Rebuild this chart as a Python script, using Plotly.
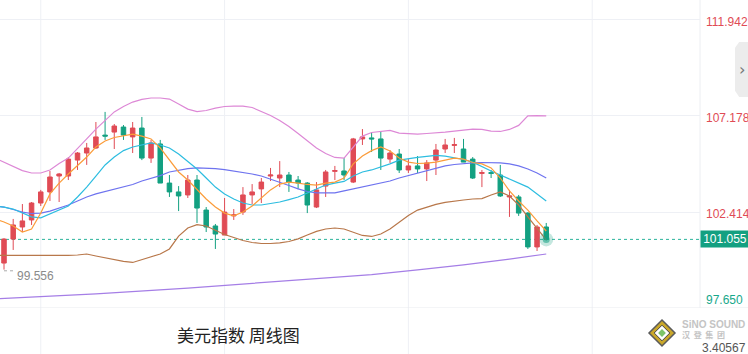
import plotly.graph_objects as go

# ---------------- data ----------------
idx = list(range(60))
opens = [99.88, 101.07, 101.67, 102.02, 102.86, 103.41, 104.20, 104.20, 104.99, 105.34,
         105.59, 106.23, 106.38, 106.63, 106.14, 106.58, 105.09, 105.79, 103.85, 103.41,
         103.26, 104.00, 102.51, 101.72, 101.27, 102.22, 102.41, 103.26, 103.56, 104.20,
         104.10, 104.25, 104.00, 103.85, 102.66, 103.70, 104.43, 104.45, 103.90, 106.04,
         106.09, 106.04, 105.04, 105.29, 104.50, 104.70, 104.55, 104.99, 105.54, 105.72,
         105.54, 105.04, 104.33, 104.37, 104.25, 103.16, 103.16, 102.36, 100.68, 101.67]
highs = [101.12, 102.07, 102.81, 102.91, 103.51, 104.45, 104.35, 105.14, 105.39, 105.84,
         106.88, 107.38, 106.78, 106.73, 106.88, 107.13, 105.99, 105.99, 104.25, 103.70,
         104.25, 104.25, 102.66, 101.82, 103.11, 102.56, 103.65, 103.80, 104.10, 104.60,
         104.94, 104.40, 104.20, 103.90, 103.90, 104.50, 104.70, 105.09, 106.09, 106.53,
         106.38, 106.43, 105.49, 105.54, 105.04, 105.19, 104.99, 105.79, 106.04, 106.09,
         106.04, 105.14, 104.50, 104.50, 104.75, 103.51, 103.26, 102.41, 101.77, 101.87]
lows = [99.556, 100.53, 101.42, 101.77, 102.71, 102.96, 102.91, 104.00, 104.50, 104.75,
        105.54, 105.99, 105.54, 105.99, 105.34, 104.99, 104.85, 103.85, 103.16, 102.46,
        103.11, 101.87, 101.42, 100.58, 101.27, 102.02, 102.27, 102.81, 102.86, 103.95,
        103.65, 103.41, 103.56, 102.36, 102.61, 103.16, 104.00, 104.00, 103.85, 105.74,
        105.39, 104.50, 104.85, 104.35, 104.35, 104.35, 103.95, 104.25, 105.34, 105.34,
        104.89, 104.05, 103.65, 104.10, 103.16, 102.17, 102.22, 100.58, 100.48, 101.00]
closes = [101.07, 101.77, 101.97, 102.86, 103.41, 104.15, 104.30, 105.04, 105.34, 105.59,
          106.14, 106.18, 106.68, 106.23, 106.58, 105.09, 105.84, 103.85, 103.41, 103.21,
          104.00, 102.61, 101.67, 101.32, 102.41, 102.27, 103.26, 103.41, 103.90, 104.25,
          104.25, 103.90, 103.85, 102.76, 103.51, 104.40, 104.47, 104.25, 106.04, 106.14,
          106.04, 105.09, 105.34, 104.50, 104.70, 104.55, 104.85, 105.49, 105.74, 105.76,
          104.89, 104.10, 104.37, 104.33, 103.21, 103.21, 102.36, 100.68, 101.67, 101.055]

line_idx = list(range(-1, 60))
boll_upper = [105.09, 104.89, 104.69, 104.47, 104.35, 104.35, 104.50, 104.82, 105.09, 105.54,
              106.04, 106.53, 106.98, 107.38, 107.65, 107.87, 108.00, 108.07, 108.07, 108.02,
              107.77, 107.52, 107.40, 107.45, 107.57, 107.65, 107.67, 107.67, 107.60, 107.42,
              107.20, 106.95, 106.66, 106.31, 105.94, 105.59, 105.32, 105.12, 105.09, 105.64,
              106.18, 106.36, 106.41, 106.46, 106.33, 106.31, 106.28, 106.31, 106.33, 106.38,
              106.43, 106.48, 106.53, 106.51, 106.43, 106.41, 106.51, 106.71, 107.18, 107.20,
              107.18]
boll_lower = [100.26, 100.26, 100.26, 100.26, 100.26, 100.23, 100.23, 100.26, 100.26, 100.28,
              100.33, 100.23, 100.13, 100.06, 99.96, 99.91, 100.06, 100.21, 100.33, 100.58,
              101.22, 101.62, 101.79, 101.72, 101.52, 101.30, 101.15, 101.00, 100.90, 100.85,
              100.85, 100.88, 100.95, 101.08, 101.27, 101.45, 101.57, 101.62, 101.57, 101.42,
              101.25, 101.20, 101.32, 101.57, 101.89, 102.24, 102.51, 102.66, 102.79, 102.89,
              102.96, 103.01, 103.06, 103.08, 103.26, 103.41, 103.21, 102.76, 102.17, 101.62,
              101.03]
ma5 = [102.07, 101.92, 101.72, 101.42, 101.57, 102.36, 103.31, 103.85, 104.30, 104.70,
       105.14, 105.64, 105.94, 106.11, 106.21, 106.28, 106.18, 106.04, 105.59, 104.99,
       104.40, 104.00, 103.51, 103.06, 102.66, 102.36, 102.22, 102.41, 102.71, 103.11,
       103.51, 103.80, 103.90, 103.85, 103.78, 103.75, 103.85, 103.90, 104.10, 104.80,
       105.19, 105.46, 105.64, 105.44, 105.09, 104.89, 104.82, 104.84, 104.89, 104.99,
       105.09, 105.04, 104.87, 104.80, 104.60, 104.10, 103.46, 102.96, 102.51, 101.97,
       101.47]
ma10 = [102.71, 102.66, 102.56, 102.36, 102.17, 102.12, 102.31, 102.51, 102.71, 103.16,
        103.65, 104.20, 104.75, 105.14, 105.46, 105.64, 105.74, 105.84, 105.74, 105.59,
        105.29, 104.94, 104.55, 104.10, 103.65, 103.31, 103.06, 102.86, 102.76, 102.76,
        102.84, 102.91, 103.03, 103.16, 103.36, 103.56, 103.75, 103.85, 103.93, 104.20,
        104.40, 104.50, 104.65, 104.80, 104.99, 105.07, 105.12, 105.17, 105.22, 105.19,
        105.12, 105.02, 104.89, 104.65, 104.45, 104.25, 104.05, 103.85, 103.65, 103.31,
        102.96]
ma20 = [102.71, 102.66, 102.54, 102.41, 102.34, 102.36, 102.46, 102.61, 102.76, 102.96,
        103.16, 103.31, 103.43, 103.56, 103.65, 103.78, 103.95, 104.08, 104.22, 104.40,
        104.50, 104.57, 104.60, 104.60, 104.57, 104.52, 104.45, 104.37, 104.30, 104.20,
        104.05, 103.90, 103.73, 103.56, 103.43, 103.36, 103.36, 103.36, 103.46, 103.56,
        103.63, 103.75, 103.85, 103.95, 104.10, 104.22, 104.35, 104.45, 104.57, 104.70,
        104.77, 104.82, 104.85, 104.87, 104.87, 104.85, 104.80, 104.70, 104.55, 104.35,
        104.10]
long_ma_idx = [-1, 0, 10, 20, 30, 40, 45, 50, 55, 59]
long_ma = [98.10, 98.12, 98.35, 98.64, 98.97, 99.31, 99.54, 99.79, 100.08, 100.33]

axis_ticks = [111.942, 107.178, 102.414, 97.650]
last_price = 101.055
low_mark = 99.556
title_text = "美元指数 周线图"

# ---------------- styles ----------------
RED = "#e04b55"
GREEN = "#13a081"
Y_MIN, Y_MAX = 97.650, 112.934
X_MIN, X_MAX = -0.435, 75.73
GRID = "#eef0f5"

fig = go.Figure()

line_specs = [
    (line_idx, boll_upper, "#dd88d6"),
    (line_idx, boll_lower, "#b8774a"),
    (line_idx, ma20, "#6e73ef"),
    (line_idx, ma10, "#2dbde0"),
    (line_idx, ma5, "#fb9c3a"),
    (long_ma_idx, long_ma, "#a57ee6"),
]
for xs, ys, col in line_specs:
    fig.add_trace(go.Scatter(x=xs, y=ys, mode="lines",
                             line=dict(color=col, width=1.2),
                             hoverinfo="skip", showlegend=False))

fig.add_trace(go.Candlestick(
    x=idx, open=opens, high=highs, low=lows, close=closes,
    increasing=dict(line=dict(color=RED, width=1), fillcolor=RED),
    decreasing=dict(line=dict(color=GREEN, width=1), fillcolor=GREEN),
    whiskerwidth=0, showlegend=False, hoverinfo="skip"))

# glow at last close
fig.add_trace(go.Scatter(x=[idx[-1]], y=[last_price], mode="markers",
                         marker=dict(size=14, color="rgba(19,160,129,0.25)"),
                         hoverinfo="skip", showlegend=False))
fig.add_trace(go.Scatter(x=[idx[-1]], y=[last_price], mode="markers",
                         marker=dict(size=7, color="rgba(19,160,129,0.55)"),
                         hoverinfo="skip", showlegend=False))

shapes = []
# vertical grid lines (extend into bottom band)
for gx in [4, 24, 44, 64]:
    shapes.append(dict(type="line", xref="x", yref="paper", x0=gx, x1=gx,
                       y0=-0.16, y1=1, line=dict(color=GRID, width=1), layer="below"))
# bottom border across full width
shapes.append(dict(type="line", xref="paper", yref="y", x0=0, x1=1.07,
                   y0=Y_MIN, y1=Y_MIN, line=dict(color="#e8eaef", width=1), layer="below"))
# right axis border
shapes.append(dict(type="line", xref="paper", yref="paper", x0=1, x1=1, y0=0, y1=1,
                   line=dict(color="#eceef2", width=1), layer="below"))
# current price dotted line
shapes.append(dict(type="line", xref="paper", yref="y", x0=0, x1=1,
                   y0=last_price, y1=last_price,
                   line=dict(color="#2bb39b", width=1, dash="dot"), layer="below"))
# dotted leader to low label
shapes.append(dict(type="line", xref="x", yref="y", x0=0, x1=1.1,
                   y0=low_mark - 0.06, y1=low_mark - 0.06,
                   line=dict(color="#aaaaaa", width=1, dash="dot")))
# side tab with chevron
shapes.append(dict(type="path", xref="paper", yref="paper",
                   path="M 1.0686 0.864 L 1.056 0.864 L 1.050 0.845 L 1.050 0.705 L 1.056 0.685 L 1.0686 0.685 Z",
                   fillcolor="#ececec", line=dict(width=0)))
# logo diamond
cx, cy = 662 / 700, (308 - 333) / 308
dx, dy = 13 / 700, 13 / 308
shapes.append(dict(type="path", xref="paper", yref="paper",
                   path=f"M {cx} {cy+dy} L {cx+dx} {cy} L {cx} {cy-dy} L {cx-dx} {cy} Z",
                   fillcolor="#c9a72a", line=dict(color="#5a5a5a", width=1.5)))
shapes.append(dict(type="path", xref="paper", yref="paper",
                   path=f"M {cx} {cy+dy*0.6} L {cx+dx*0.6} {cy} L {cx} {cy-dy*0.6} L {cx-dx*0.6} {cy} Z",
                   fillcolor="#ffffff", line=dict(color="#444444", width=1)))
shapes.append(dict(type="path", xref="paper", yref="paper",
                   path=f"M {cx} {cy+dy*0.3} L {cx+dx*0.3} {cy} L {cx} {cy-dy*0.3} L {cx-dx*0.3} {cy} Z",
                   fillcolor="#7cc46a", line=dict(width=0)))

ann = []
tick_font = dict(family="Liberation Sans, Arial, sans-serif", size=12)
for v in axis_ticks:
    col = RED if v > last_price else "#17a88b"
    shift = -2 if v > Y_MIN else 8
    ann.append(dict(xref="paper", yref="y", x=1, y=v, text=f"{v:.3f}", showarrow=False,
                    xanchor="left", yanchor="middle", xshift=4, yshift=shift,
                    font=dict(tick_font, color=col)))
ann.append(dict(xref="paper", yref="y", x=1, y=last_price, text=f"{last_price:.3f}",
                showarrow=False, xanchor="left", yanchor="middle", bgcolor=GREEN,
                width=46, height=14, borderpad=1, align="center",
                font=dict(tick_font, color="white")))
ann.append(dict(xref="x", yref="y", x=1.2, y=low_mark, text=f"{low_mark:.3f}",
                showarrow=False, xanchor="left", yanchor="middle", yshift=-6,
                font=dict(family="Liberation Sans, Arial, sans-serif", size=12, color="#8a8a8a")))
ann.append(dict(xref="paper", yref="paper", x=1.0686, y=(308 - 69) / 308, text="›",
                showarrow=False, xanchor="right", yanchor="middle", xshift=-1,
                font=dict(family="DejaVu Sans", size=16, color="#777777")))
ann.append(dict(xref="paper", yref="paper", x=238 / 700, y=(308 - 335) / 308, text=title_text,
                showarrow=False, xanchor="center", yanchor="middle",
                font=dict(family="Noto Sans CJK SC", size=17, color="#222222")))
ann.append(dict(xref="paper", yref="paper", x=748 / 700, y=(308 - 348) / 308, text="3.40567",
                showarrow=False, xanchor="right", yanchor="middle",
                font=dict(family="Liberation Sans, Arial", size=12, color="#555555")))
ann.append(dict(xref="paper", yref="paper", x=680 / 700, y=(308 - 324) / 308, text="<b>SiNO SOUND</b>",
                showarrow=False, xanchor="left", yanchor="middle",
                font=dict(family="Liberation Sans, Arial", size=10, color="#c4c4c4")))
ann.append(dict(xref="paper", yref="paper", x=680 / 700, y=(308 - 335) / 308, text="<b>汉  登  集  团</b>",
                showarrow=False, xanchor="left", yanchor="middle",
                font=dict(family="Noto Sans CJK SC", size=8, color="#c4c4c4")))

fig.update_layout(
    width=748, height=354,
    margin=dict(l=0, r=48, t=0, b=46),
    paper_bgcolor="white", plot_bgcolor="white",
    showlegend=False,
    shapes=shapes, annotations=ann,
    xaxis=dict(range=[X_MIN, X_MAX], showgrid=False, zeroline=False,
               showticklabels=False, rangeslider=dict(visible=False), fixedrange=True),
    yaxis=dict(range=[Y_MIN, Y_MAX], tickvals=axis_ticks[:3], showticklabels=False,
               gridcolor=GRID, gridwidth=1, zeroline=False, side="right", fixedrange=True),
)

fig.write_html("out.html", config=dict(displayModeBar=False))
